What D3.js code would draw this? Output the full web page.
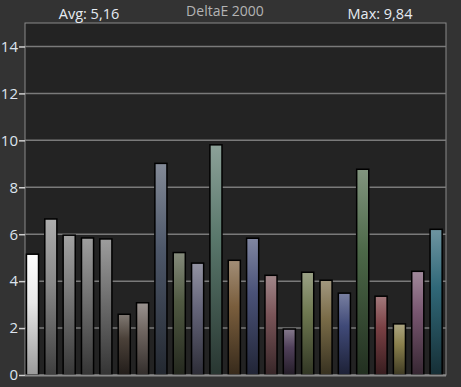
<!DOCTYPE html>
<html>
<head>
<meta charset="utf-8">
<script src="https://cdn.jsdelivr.net/npm/d3@7"></script>
<style>
  body { margin: 0; background: #333333; }
  svg { display: block; }
</style>
</head>
<body>
<div id="chart"></div>
<script>
  // patch index, measured deltaE and the bar colour
  var patches = d3.range(1, 24).map(String);
  var deltaE = [5.18, 6.68, 5.99, 5.87, 5.83, 2.62, 3.11, 9.05, 5.25, 4.80, 9.84, 4.92,
                5.86, 4.28, 1.99, 4.41, 4.07, 3.52, 8.80, 3.39, 2.21, 4.45, 6.24];
  var colours = ["#e8e8e8", "#8a8a8a", "#7a7a7a", "#757575", "#737373", "#4b4139", "#6f6560",
                 "#4e586a", "#505942", "#65657a", "#5a786c", "#7a5e3d", "#4a5278", "#7a5458",
                 "#50405a", "#6e7850", "#7a6c48", "#404a78", "#4c6848", "#7a4044", "#8a804d",
                 "#785670", "#306878"];
  var yTicks = [0, 2, 4, 6, 8, 10, 12, 14];
  var avgLabel = "Avg: 5,16";
  var maxLabel = "Max: 9,84";
  var title = "DeltaE 2000";

  var W = 461, H = 387;
  var margin = { top: 23, right: 15, bottom: 12, left: 25 };

  var svg = d3.select("#chart")
    .append("svg")
    .attr("width", W)
    .attr("height", H)
    .style("font-family", "'Open Sans', 'Noto Sans', sans-serif");

  svg.append("rect").attr("width", W).attr("height", H).attr("fill", "#333333");

  var x = d3.scaleBand()
    .domain(patches)
    .range([25.7, 442.9])
    .paddingInner(0.26)
    .paddingOuter(0);

  var y = d3.scaleLinear()
    .domain([0, 15])
    .range([375, 23]);

  // plot background
  svg.append("rect")
    .attr("x", margin.left)
    .attr("y", margin.top)
    .attr("width", W - margin.left - margin.right)
    .attr("height", y(0) - margin.top)
    .attr("fill", "#232323")
    .attr("stroke", "#8a8a8a")
    .attr("stroke-width", 1);

  // gridlines
  svg.append("g")
    .selectAll("line")
    .data(yTicks.filter(function(d) { return d > 0; }))
    .enter()
    .append("line")
    .attr("x1", margin.left)
    .attr("x2", W - margin.right)
    .attr("y1", function(d) { return y(d); })
    .attr("y2", function(d) { return y(d); })
    .attr("stroke", "#7a7a7a")
    .attr("stroke-width", 1.5);

  // gradients, one per bar
  var defs = svg.append("defs");
  colours.forEach(function(c, i) {
    var g = defs.append("linearGradient")
      .attr("id", "g" + i)
      .attr("x1", 0).attr("x2", 0).attr("y1", 0).attr("y2", 1);
    var top = i === 0 ? "#ffffff" : d3.interpolateRgb(c, "#ffffff")(0.3);
    var bot = i === 0 ? "#9a9a9a" : d3.interpolateRgb(c, "#000000")(0.55);
    g.append("stop").attr("offset", "0%").attr("stop-color", top);
    g.append("stop").attr("offset", "40%").attr("stop-color", c);
    g.append("stop").attr("offset", "100%").attr("stop-color", bot);
  });

  svg.append("g")
    .selectAll("rect")
    .data(deltaE)
    .enter()
    .append("rect")
    .attr("x", function(d, i) { return x(patches[i]) + 0.75; })
    .attr("y", function(d) { return y(d) + 0.75; })
    .attr("width", x.bandwidth() - 1.5)
    .attr("height", function(d) { return y(0) - y(d) - 0.75; })
    .attr("fill", function(d, i) { return "url(#g" + i + ")"; })
    .attr("stroke", "#000000")
    .attr("stroke-width", 1.5);

  // bottom axis line
  svg.append("line")
    .attr("x1", margin.left)
    .attr("x2", W - margin.right)
    .attr("y1", y(0) + 0.5)
    .attr("y2", y(0) + 0.5)
    .attr("stroke", "#8a8a8a")
    .attr("stroke-width", 2);

  // y axis
  var yAxis = svg.append("g")
    .attr("transform", "translate(" + margin.left + ",0)")
    .call(d3.axisLeft(y).tickValues(yTicks).tickSize(6).tickPadding(1));
  yAxis.select(".domain").remove();
  yAxis.selectAll(".tick line").attr("stroke", "#d0d0d0").attr("stroke-width", 1.5);
  yAxis.selectAll(".tick text")
    .attr("fill", "#dde4ee")
    .style("font-size", "15px")
    .style("font-family", "'Open Sans', sans-serif");

  // header texts
  svg.append("text")
    .attr("x", 89).attr("y", 19)
    .attr("text-anchor", "middle")
    .attr("fill", "#e6ebf2")
    .style("font-size", "14.5px")
    .text(avgLabel);
  svg.append("text")
    .attr("x", 225).attr("y", 16)
    .attr("text-anchor", "middle")
    .attr("fill", "#b4b4b4")
    .style("font-size", "14px")
    .text(title);
  svg.append("text")
    .attr("x", 380).attr("y", 19)
    .attr("text-anchor", "middle")
    .attr("fill", "#e6ebf2")
    .style("font-size", "14.5px")
    .text(maxLabel);
</script>
</body>
</html>
